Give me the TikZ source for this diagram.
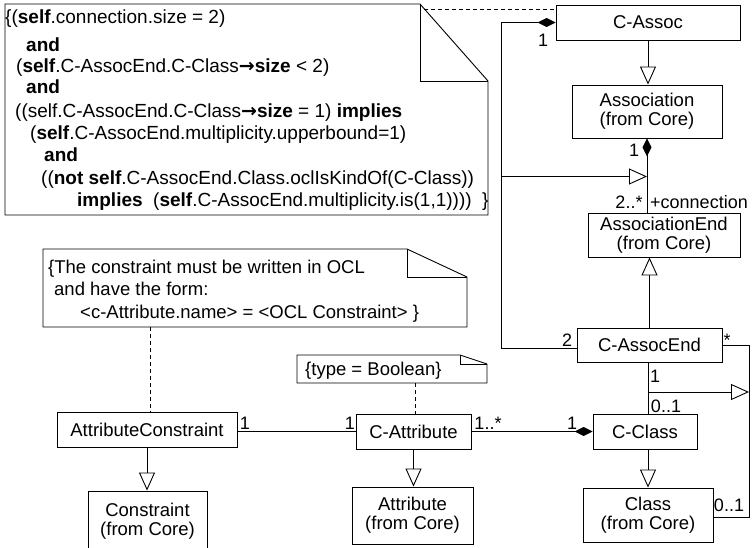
\documentclass[tikz,border=0pt]{standalone}
\usepackage{fontspec}
\setmainfont{Liberation Sans}
\newfontfamily\arrowfont{DejaVu Sans}
\usetikzlibrary{arrows.meta}
\newcommand{\oclarrow}{{\arrowfont\bfseries →}}
\tikzset{
  cls/.style={draw, line width=0.9pt, inner sep=0pt, align=center, font=\fontsize{18.5}{19}\selectfont},
  lbl/.style={inner sep=0pt, font=\fontsize{18}{18}\selectfont},
  txt/.style={inner sep=0pt, anchor=base west, font=\fontsize{19}{19}\selectfont},
  ntxt/.style={inner sep=0pt, anchor=base west, font=\fontsize{18.5}{19}\selectfont},
  gen/.style={-{Triangle[open, length=18pt, width=16pt, fill=white]}, line width=0.9pt},
  comp/.style={{Diamond[length=18pt, width=9pt]}-, line width=0.9pt},
  assoc/.style={line width=0.9pt},
  anchorline/.style={dash pattern=on 4pt off 3pt, line width=0.9pt},
  notebox/.style={draw, line width=0.9pt},
}
\begin{document}
\begin{tikzpicture}[x=1pt, y=-1pt]
\useasboundingbox (0,0) rectangle (752,548);

% ---- class boxes ----
\node[cls, minimum width=184pt, minimum height=35pt] (cassoc) at (648,22.5) {C-Assoc};
\node[cls, minimum width=150pt, minimum height=53pt] (association) at (647,111.5) {Association\\(from Core)};
\node[cls, minimum width=152pt, minimum height=44pt] (assocend) at (664,235) {AssociationEnd\\(from Core)};
\node[cls, minimum width=145pt, minimum height=34pt] (cassocend) at (649.5,345) {C-AssocEnd};
\node[cls, minimum width=104pt, minimum height=35pt] (cclass) at (645,431.5) {C-Class};
\node[cls, minimum width=130pt, minimum height=54pt] (class) at (648,515) {Class\\(from Core)};
\node[cls, minimum width=115pt, minimum height=35pt] (cattribute) at (413.5,431.5) {C-Attribute};
\node[cls, minimum width=121pt, minimum height=57pt] (attribute) at (412.5,515.5) {Attribute\\(from Core)};
\node[cls, minimum width=180pt, minimum height=35pt] (attrconstraint) at (147,429.5) {AttributeConstraint};
\node[cls, minimum width=119pt, minimum height=60pt] (constraint) at (147.5,521) {Constraint\\(from Core)};

% ---- note 1 ----
\draw[notebox] (5,4) -- (420,4) -- (488,81) -- (488,215) -- (5,215) -- cycle;
\draw[notebox] (420,4) -- (420,81) -- (488,81);
\node[txt] (n1a) at (5,24) {\{(\textbf{self}.connection.size = 2)};
\node[txt] (n1b) at (26,52) {\textbf{and}};
\node[txt] (n1c) at (16,73) {(\textbf{self}.C-AssocEnd.C-Class\oclarrow\textbf{size} < 2)};
\node[txt] (n1d) at (26,94) {\textbf{and}};
\node[txt] (n1e) at (15,118) {((self.C-AssocEnd.C-Class\oclarrow\textbf{size} = 1) \textbf{implies}};
\node[txt] (n1f) at (30,140) {(\textbf{self}.C-AssocEnd.multiplicity.upperbound=1)};
\node[txt] (n1g) at (44,162) {\textbf{and}};
\node[txt] (n1h) at (41,185) {((\textbf{not self}.C-AssocEnd.Class.oclIsKindOf(C-Class))};
\node[txt] (n1i) at (77,207) {\textbf{implies}\ \ (\textbf{self}.C-AssocEnd.multiplicity.is(1,1))))\ \ \}};
\coordinate (n1anchor) at (424,9);
\draw[anchorline] (n1anchor) -- (cassoc.west |- n1anchor);

% ---- note 2 ----
\draw[notebox] (43,249) -- (407,249) -- (467,277) -- (467,327) -- (43,327) -- cycle;
\draw[notebox] (407,249) -- (407,277) -- (467,277);
\node[ntxt] (n2a) at (48,273) {\{The constraint must be written in OCL};
\node[ntxt] (n2b) at (54,295) {and have the form:};
\node[ntxt] (n2c) at (80,318) {<c-Attribute.name> = <OCL Constraint> \}};
\coordinate (n2anchor) at (150,327);
\draw[anchorline] (n2anchor) -- (n2anchor |- attrconstraint.north);

% ---- note 3 ----
\draw[notebox] (297,355) -- (460,355) -- (487,364) -- (487,383) -- (297,383) -- cycle;
\draw[notebox] (460,355) -- (460,364) -- (487,364);
\node[ntxt] (n3a) at (305,375) {\{type = Boolean\}};
\coordinate (n3anchor) at (415,383);
\draw[anchorline] (n3anchor) -- (n3anchor |- cattribute.north);

% ---- generalizations ----
\draw[gen] (cassoc.south) -- (cassoc.south |- association.north);
\draw[gen] (cassocend.north) -- (cassocend.north |- assocend.south);
\draw[gen] (class.north |- cclass.south) -- (class.north);
\draw[gen] (cattribute.south) -- (cattribute.south |- attribute.north);
\draw[gen] (attrconstraint.south) -- (attrconstraint.south |- constraint.north);

% ---- compositions ----
\coordinate (lb1) at (501,22.5);
\coordinate (lb2) at (501,348);
\draw[comp] (cassoc.west) -- (lb1) -- (lb2) -- (cassocend.west |- lb2);
\draw[comp] (association.south) -- (association.south |- assocend.north);
\draw[comp] (cclass.west |- cattribute.east) -- (cattribute.east);

% association-class style generalizations
\coordinate (ga) at (501,176.5);
\coordinate (gb) at (647,176.5);
\draw[gen] (ga) -- (gb);
\coordinate (gc) at (648,392);
\coordinate (gd) at (749,392);
\draw[gen] (gc) -- (gd);

% ---- plain associations ----
\draw[assoc] (cattribute.west -| attrconstraint.east) -- (cattribute.west);
\draw[assoc] (cassocend.south -| 648,0) -- (648,0 |- cclass.north);
\coordinate (r1) at (749,345);
\coordinate (r2) at (749,517);
\draw[assoc] (cassocend.east) -- (r1) -- (r2) -- (class.east |- r2);

% ---- multiplicity labels ----
\node[lbl] (m1) at (543,40) {1};
\node[lbl] (m2) at (634,150) {1};
\node[lbl] (m3) at (629,202) {2..*};
\node[lbl, anchor=west] (m4) at (650,202) {+connection};
\node[lbl] (m5) at (567,340) {2};
\node[lbl] (m6) at (727,340) {*};
\node[lbl] (m7) at (655,376) {1};
\node[lbl] (m8) at (666,406) {0..1};
\node[lbl] (m9) at (488,423) {1..*};
\node[lbl] (m10) at (572,423) {1};
\node[lbl] (m11) at (729,505) {0..1};
\node[lbl] (m12) at (245,423) {1};
\node[lbl] (m13) at (350,423) {1};
\end{tikzpicture}
\end{document}
